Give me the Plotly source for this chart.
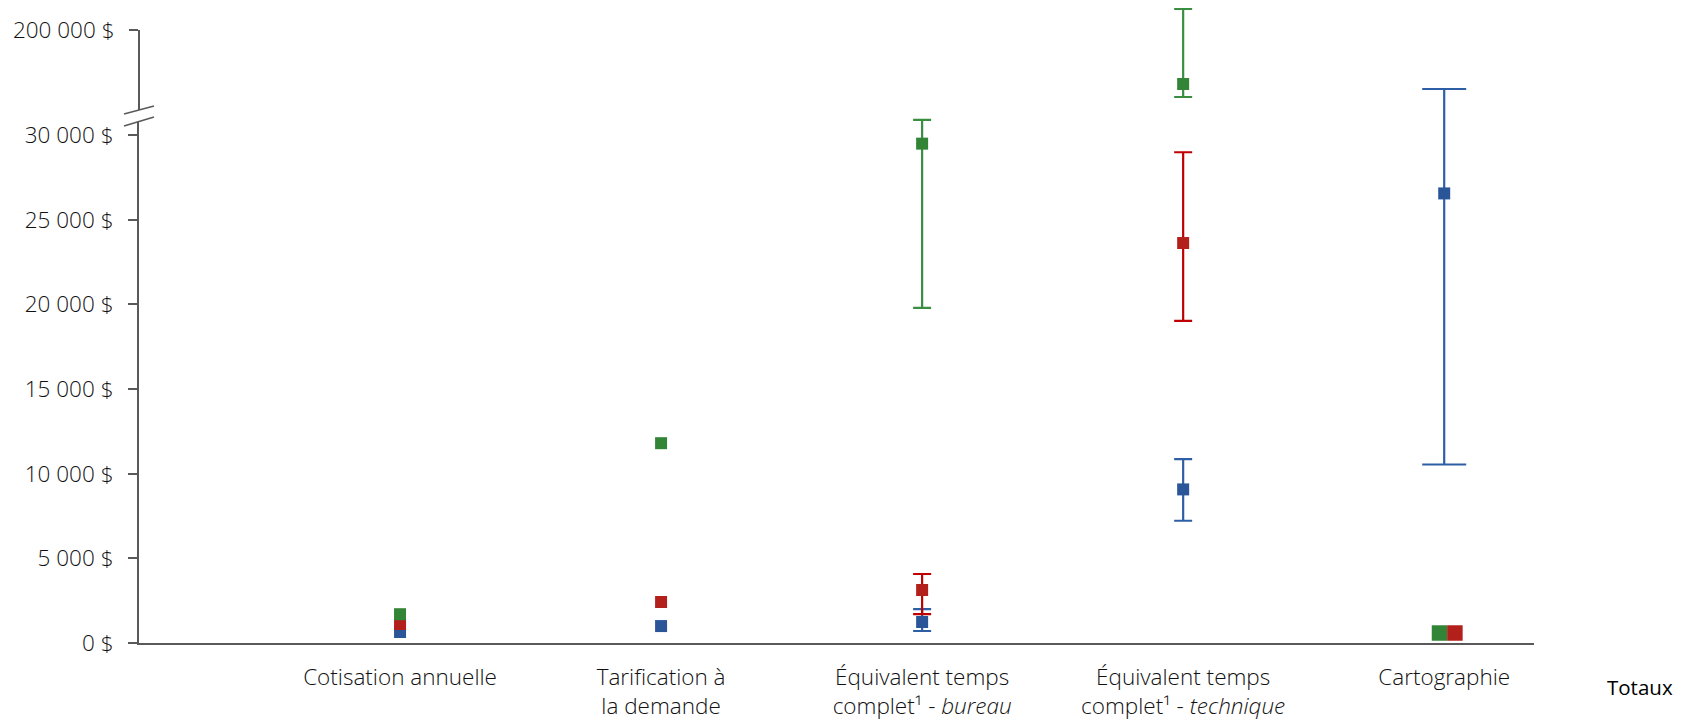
import plotly.graph_objects as go

# ---------------- data ----------------
categories = [
    "Cotisation annuelle",
    "Tarification à<br>la demande",
    "Équivalent temps<br>complet¹ - <i>bureau</i>",
    "Équivalent temps<br>complet¹ - <i>technique</i>",
    "Cartographie",
]
cat_pos = [1, 2, 3, 4, 5]

blue_mean = [650, 1000, 1240, 9070, 26550]
blue_low = [None, None, 710, 7220, 10540]
blue_high = [None, None, 2000, 10855, 90700]

red_mean = [1120, 2420, 3130, 23620, None]
red_low = [None, None, 1710, 19020, None]
red_high = [None, None, 4075, 28980, None]

green_mean = [1700, 11800, 29490, 100000, None]
green_low = [None, None, 19790, 75900, None]
green_high = [None, None, 30890, 238900, None]

totaux_labels = ["green", "red"]
totaux_values = [590, 590]

low_ticks = [0, 5000, 10000, 15000, 20000, 25000, 30000]
low_tick_text = ["0 $", "5 000 $", "10 000 $", "15 000 $", "20 000 $", "25 000 $", "30 000 $"]
high_ticks = [200000]
high_tick_text = ["200 000 $"]

# ---------------- style ----------------
OFF = 8                              # page body margin
W, H = 1694 - OFF, 721 - OFF
ML, MR, MT, MB = 139 - OFF, 160, 0, 78
PW, PH = W - ML - MR, H - MT - MB
AX_Y = H - MB                        # figure pixel row of the x axis
BREAK_PX = 111 - OFF                 # figure pixel row of the axis break
LOW_DOMAIN_TOP = (AX_Y - BREAK_PX) / PH
LOW_RANGE = [0, 30000 * (AX_Y - BREAK_PX) / (AX_Y - (135 - OFF))]
HIGH_PER_PX = 150000 / (111 - 30)
HIGH_RANGE = [50000, 200000 + HIGH_PER_PX * (30 - OFF - MT)]
AXIS_COL = "#595959"
TXT_COL = "#111111"
FONT = "Open Sans"
FS = 22.5

series = [
    ("blue", blue_mean, blue_low, blue_high, "#2A5699", "#2E5FA6"),
    ("red", red_mean, red_low, red_high, "#B3201C", "#C00000"),
    ("green", green_mean, green_low, green_high, "#328536", "#3A8E40"),
]
cap_half = [9, 9, 9, 9, 22]

fig = go.Figure()


def add_both(**kw):
    for ya in ("y", "y2"):
        fig.add_trace(go.Scatter(yaxis=ya, xaxis="x", showlegend=False,
                                 hoverinfo="skip", cliponaxis=True, **kw))


# error bars first
for name, mean, low, high, mcol, ecol in series:
    groups = {}
    for i, (m, lo, hi) in enumerate(zip(mean, low, high)):
        if m is None or lo is None:
            continue
        groups.setdefault(cap_half[i], []).append(i)
    for cw, idx in groups.items():
        add_both(
            x=[cat_pos[i] for i in idx],
            y=[mean[i] for i in idx],
            mode="markers",
            marker=dict(size=1, opacity=0),
            error_y=dict(type="data", symmetric=False,
                         array=[high[i] - mean[i] for i in idx],
                         arrayminus=[mean[i] - low[i] for i in idx],
                         color=ecol, thickness=2.2, width=cw),
        )

# markers
for name, mean, low, high, mcol, ecol in series:
    idx = [i for i, m in enumerate(mean) if m is not None]
    add_both(
        x=[cat_pos[i] for i in idx],
        y=[mean[i] for i in idx],
        mode="markers",
        marker=dict(symbol="square", size=12, color=mcol, line=dict(width=0)),
    )

# totals squares at "Cartographie"
tot_colors = {"green": "#328536", "red": "#B3201C"}
tot_offsets = {"green": -0.018, "red": 0.041}
for lab, v in zip(totaux_labels, totaux_values):
    add_both(
        x=[cat_pos[-1] + tot_offsets[lab]],
        y=[v],
        mode="markers",
        marker=dict(symbol="square", size=15.5, color=tot_colors[lab], line=dict(width=0)),
    )


def px_x(px):  # page px -> paper
    return (px - OFF - ML) / PW


def px_y(py):  # page px -> paper
    return (AX_Y - (py - OFF)) / PH


shapes = [
    dict(type="line", xref="paper", yref="y2", x0=0, x1=0,
         y0=HIGH_RANGE[0], y1=high_ticks[0], line=dict(color=AXIS_COL, width=2)),
    dict(type="path", xref="paper", yref="paper",
         path=f"M {px_x(124)} {px_y(114)} L {px_x(154)} {px_y(106)} "
              f"L {px_x(154)} {px_y(117)} L {px_x(124)} {px_y(126)} Z",
         fillcolor="white", line=dict(width=0), layer="above"),
    dict(type="line", xref="paper", yref="paper", x0=px_x(124), y0=px_y(114),
         x1=px_x(154), y1=px_y(106), line=dict(color=AXIS_COL, width=1.5), layer="above"),
    dict(type="line", xref="paper", yref="paper", x0=px_x(124), y0=px_y(126),
         x1=px_x(154), y1=px_y(117), line=dict(color=AXIS_COL, width=1.5), layer="above"),
]

fig.update_layout(
    width=W, height=H,
    margin=dict(l=ML, r=MR, t=MT, b=MB),
    paper_bgcolor="white", plot_bgcolor="white",
    font=dict(family=FONT, color=TXT_COL, size=FS, weight=300),
    shapes=shapes,
    xaxis=dict(range=[0, 5.344], tickvals=cat_pos, ticktext=categories,
               showline=True, linecolor=AXIS_COL, linewidth=2, ticks="",
               showgrid=False, zeroline=False, anchor="y",
               tickfont=dict(size=FS, color=TXT_COL, weight=300), ticklabelstandoff=13),
    yaxis=dict(domain=[0, LOW_DOMAIN_TOP], range=LOW_RANGE,
               tickvals=low_ticks, ticktext=low_tick_text,
               showline=True, linecolor=AXIS_COL, linewidth=2,
               ticks="outside", ticklen=9, tickwidth=2, tickcolor=AXIS_COL,
               showgrid=False, zeroline=False, anchor="x",
               tickfont=dict(size=FS, color=TXT_COL, weight=300), ticklabelstandoff=10),
    yaxis2=dict(domain=[LOW_DOMAIN_TOP, 1], range=HIGH_RANGE,
                tickvals=high_ticks, ticktext=high_tick_text,
                showline=False,
                ticks="outside", ticklen=9, tickwidth=2, tickcolor=AXIS_COL,
                showgrid=False, zeroline=False, anchor="x",
                tickfont=dict(size=FS, color=TXT_COL, weight=300), ticklabelstandoff=10),
    annotations=[dict(text="Totaux", xref="paper", yref="paper",
                      x=px_x(1640), y=px_y(687), showarrow=False,
                      font=dict(size=20.5, color="black", family=FONT, weight=400),
                      xanchor="center", yanchor="middle")],
)

fig.write_html("out.html")
